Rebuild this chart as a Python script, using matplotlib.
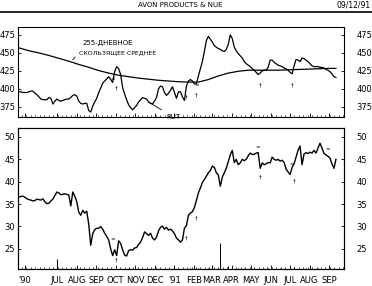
import numpy as np
import pandas as pd
import matplotlib
matplotlib.use('Agg')
import matplotlib.pyplot as plt
import matplotlib.dates as mdates
from matplotlib.lines import Line2D

plt.rcParams['font.family'] = ['Liberation Sans Narrow', 'DejaVu Sans']

# relative strength line (top panel), one value every 75 hours
rs = [396, 396, 395, 395, 395, 396, 397, 397, 394, 392,
      389, 386, 385, 385, 385, 388, 387, 379, 383, 386,
      384, 383, 384, 385, 386, 386, 388, 391, 392, 390,
      383, 380, 379, 380, 380, 370, 368, 376, 382, 387,
      395, 401, 408, 411, 414, 417, 413, 409, 424, 431,
      428, 420, 402, 393, 385, 378, 374, 371, 374, 377,
      382, 385, 388, 387, 386, 382, 380, 379, 383, 388,
      400, 404, 403, 395, 391, 394, 398, 403, 395, 387,
      396, 396, 389, 384, 404, 411, 413, 411, 407, 407,
      418, 428, 438, 452, 467, 473, 469, 465, 460, 458,
      456, 455, 453, 452, 455, 462, 475, 470, 458, 453,
      449, 446, 443, 438, 435, 433, 431, 428, 426, 423,
      420, 422, 425, 426, 426, 430, 440, 440, 437, 435,
      433, 432, 431, 429, 428, 426, 423, 421, 432, 441,
      440, 438, 443, 442, 440, 438, 435, 432, 431, 431,
      431, 430, 430, 429, 427, 426, 424, 421, 417, 416]

# 255-day moving average, every 5th point
ma = [457, 453, 450, 446.5, 442.5, 438.5, 434, 430, 425.5, 422,
      419, 417, 415, 413.5, 412, 411, 410, 409.5, 409.5, 413,
      418, 422, 424.5, 426, 426, 426, 426, 426.5, 427, 427.5,
      428, 428.5, 428.5]

# share price (bottom panel)
price = [36.6, 36.7, 36.8, 36.5, 36.2, 36.0, 35.9, 35.7, 35.8, 36.1,
         36.0, 35.9, 36.2, 35.5, 35.1, 35.2, 35.7, 36.1, 36.9, 37.7,
         37.5, 37.1, 37.2, 37.3, 37.2, 37.0, 34.6, 37.7, 36.8, 35.5,
         33.2, 32.5, 33.6, 33.0, 33.4, 30.5, 25.8, 28.4, 29.3, 29.6,
         29.6, 30.0, 29.4, 28.5, 27.8, 27.0, 25.0, 23.5, 24.8, 23.5,
         26.8, 26.2, 24.8, 23.6, 23.4, 24.6, 24.8, 24.7, 25.2, 25.3,
         26.0, 26.5, 27.5, 28.8, 28.4, 28.0, 28.5, 27.4, 27.0, 27.6,
         29.0, 29.8, 30.1, 29.4, 29.8, 29.2, 29.4, 29.0, 28.4, 27.4,
         27.0, 26.5, 27.0, 29.6, 30.2, 32.5, 33.0, 33.3, 34.2, 35.8,
         37.5, 38.6, 39.8, 40.5, 41.2, 42.0, 42.5, 43.5, 43.2, 42.0,
         41.5, 39.0, 41.0, 42.0, 43.0, 44.5, 46.0, 47.0, 44.3, 45.0,
         43.8, 44.2, 45.0, 44.7, 45.0, 45.8, 46.4, 46.1, 46.1, 46.4,
         46.5, 43.0, 44.2, 43.8, 44.0, 44.3, 44.2, 45.5, 45.0, 44.8,
         45.0, 44.6, 44.8, 44.3, 42.8, 42.2, 41.6, 43.2, 44.0, 45.5,
         47.0, 48.0, 43.8, 46.2, 46.5, 46.3, 46.6, 46.4, 47.0, 46.4,
         47.5, 48.6, 47.5, 46.3, 46.0, 45.7, 45.3, 44.0, 43.0, 45.0]

# volume spikes along the bottom of the price panel
vol_idx = [19, 55, 86, 90, 95, 101, 105, 110, 113, 118, 125, 131, 138, 144, 150, 156]
vol_val = [10, 1.5, 1, 1.5, 1, 26, 3, 1.5, 1, 1, 1.5, 1, 2, 1, 1.5, 1]

# signal marks (index, value, symbol)
top_marks = [(47, 412, '='), (49, 401, '†'), (84, 388, '†'), (89, 405, '='),
             (89, 391, '†'), (121, 406, '†'), (137, 406, '†')]
bot_marks = [(47, 27.1, '='), (49, 22.4, '†'), (84, 27.4, '†'), (89, 31.8, '†'),
             (120, 47.5, '='), (121, 41.0, '†'), (137, 43.7, '='), (138, 40.1, '†'),
             (155, 47.1, '=')]

month_ticks = ['1990-05-12', '1990-07-01', '1990-08-01', '1990-09-01', '1990-10-01',
               '1990-11-01', '1990-12-01', '1991-01-01', '1991-02-01', '1991-03-01',
               '1991-04-01', '1991-05-01', '1991-06-01', '1991-07-01', '1991-08-01',
               '1991-09-01']
month_labels = ["'90", 'JUL', 'AUG', 'SEP', 'OCT', 'NOV', 'DEC', "'91", 'FEB', 'MAR',
                'APR', 'MAY', 'JUN', 'JUL', 'AUG', 'SEP']

dates = pd.date_range('1990-05-02 12:00', periods=len(price), freq='75h')
ma_idx = np.r_[0:160:5, 159]
ma_dates = dates[ma_idx]

fig = plt.figure(figsize=(3.72, 2.86), dpi=100)
ax1 = fig.add_axes([0.0484, 0.5909, 0.8763, 0.3147])
ax2 = fig.add_axes([0.0484, 0.0594, 0.8763, 0.4930], sharex=ax1)

ax1.plot(dates, rs, color='black', lw=0.9)
ax1.plot(ma_dates, ma, color='black', lw=0.9)
ax2.plot(dates, price, color='black', lw=1.0)

# volume on its own hidden scale
axv = ax2.twinx()
axv.vlines(dates[vol_idx], 0, vol_val, color='black', lw=0.7)
axv.set_ylim(0, 140)
axv.set_yticks([])

for i, v, s in top_marks:
    ax1.text(dates[i], v, s, fontsize=4, ha='center', va='center')
for i, v, s in bot_marks:
    ax2.text(dates[i], v, s, fontsize=4, ha='center', va='center')

ax1.set_ylim(361, 486)
ax1.set_yticks([375, 400, 425, 450, 475])
ax2.set_ylim(20.5, 52)
ax2.set_yticks([25, 30, 35, 40, 45, 50])
ax1.set_xlim(pd.Timestamp('1990-05-01'), pd.Timestamp('1991-09-24'))

ax2.set_xticks(pd.to_datetime(month_ticks))
ax2.set_xticklabels(month_labels)
ax2.xaxis.set_minor_locator(mdates.WeekdayLocator(byweekday=mdates.MO))
ax1.tick_params(axis='x', labelbottom=False)

for ax in (ax1, ax2):
    ax.tick_params(axis='y', which='both', direction='in', length=2, width=0.6,
                   labelsize=6, right=True, labelright=True, pad=2)
    ax.tick_params(axis='x', which='major', direction='in', length=3, width=0.6,
                   labelsize=6, pad=5)
    ax.tick_params(axis='x', which='minor', direction='in', length=1.5, width=0.5)
    for sp in ax.spines.values():
        sp.set_linewidth(0.8)
    # right-hand labels sit a little away from the frame
    for t in ax.yaxis.get_major_ticks():
        t.label2.set_x(1.03)
        t.label2.set_horizontalalignment('left')

# labels on the moving average and the RS line
ax1.text(0.199, 0.822, '255-ДНЕВНОЕ', transform=ax1.transAxes, fontsize=5,
         ha='left', va='center')
ax1.text(0.187, 0.711, 'СКОЛЬЗЯЩЕЕ СРЕДНЕЕ', transform=ax1.transAxes, fontsize=4.5,
         ha='left', va='center')
ax1.annotate('', xy=(dates[26], ma[5] - 1), xytext=(0.181, 0.689),
             textcoords='axes fraction',
             arrowprops=dict(arrowstyle='-', color='black', lw=0.6))
ax1.annotate('RUT', xy=(dates[65], rs[65]), xytext=(0.454, 0.0),
             textcoords='axes fraction', fontsize=5, ha='left', va='center',
             arrowprops=dict(arrowstyle='-', color='black', lw=0.6, shrinkB=0))

fig.text(0.484, 1 - 5 / 286, 'AVON PRODUCTS & NUE', ha='center', va='center', fontsize=5)
fig.text(0.995, 1 - 5 / 286, '09/12/91', ha='right', va='center', fontsize=5.5)
fig.add_artist(Line2D([0, 1], [1 - 12 / 286, 1 - 12 / 286], color='black', lw=1.2))

fig.savefig('out.png', dpi=100)
